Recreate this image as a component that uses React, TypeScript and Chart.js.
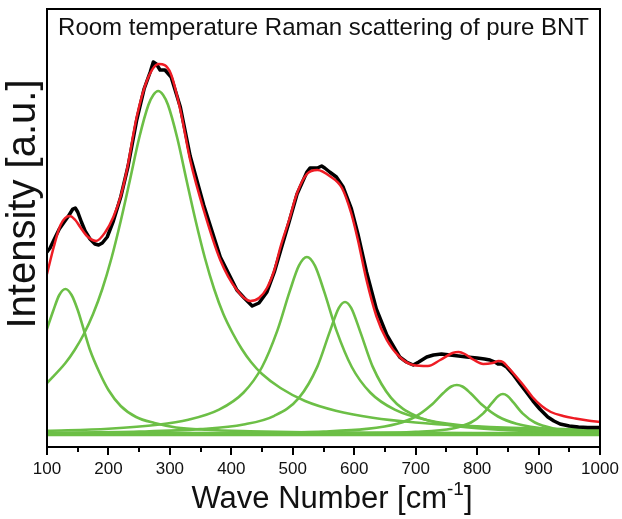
import React, { useEffect, useRef } from "react";
import { Chart, registerables } from "chart.js";

Chart.register(...registerables);

// ---- text ----
const titleText = "Room temperature Raman scattering of pure BNT";
const xTitleMain = "Wave Number [cm";
const xTitleSup = "-1";
const xTitleEnd = "]";
const yTitleText = "Intensity [a.u.]";

// ---- axes ----
const xMin = 100;
const xMax = 1000;
const xMajorStep = 100;
const xMinorStep = 50;
const yMin = -13;
const yMax = 425;

// ---- measured spectrum (black) ----
const expX = [100, 105, 112, 120, 128, 135, 142, 146, 150, 156, 162, 170, 178, 184, 190, 198, 208, 220, 232, 246, 258, 268, 273, 278, 284, 292, 302, 317, 333, 355, 382, 409, 421, 434, 445, 458, 470, 480, 494, 507, 523, 528, 540, 547, 552, 560, 571, 582, 595, 606, 620, 636, 653, 674, 685, 696, 705, 718, 729, 742, 756, 770, 783, 800, 812, 821, 829, 834, 840, 848, 858, 870, 880, 891, 902, 915, 925, 935, 950, 965, 980, 1000];
const expY = [182, 186, 195, 205, 212, 218, 225, 226, 222, 212, 203, 195, 190, 189, 191, 197, 213, 237, 268, 314, 345, 362, 372, 370, 364, 364, 357, 327, 278, 229, 177, 144, 136, 128, 131, 142, 162, 183, 212, 240, 262, 266, 266, 268, 266, 262, 257, 247, 226, 200, 162, 125, 99, 77, 72, 69, 72, 77, 79, 80, 79, 78, 77, 76, 75, 74, 72, 70, 70, 67, 60, 50, 42, 33, 25, 17, 13, 10, 8, 7, 6.5, 6.5];

// ---- cumulative fit (red) ----
const fitX = [100, 111, 122, 137, 146, 154, 165, 180, 195, 208, 220, 230, 246, 263, 282, 301, 317, 333, 355, 382, 409, 431, 445, 458, 470, 480, 494, 507, 523, 540, 560, 580, 595, 606, 620, 636, 653, 674, 696, 720, 740, 760, 770, 780, 795, 810, 825, 835, 842, 850, 860, 875, 890, 905, 920, 940, 960, 980, 1000];
const fitY = [160, 187, 209, 218, 214, 207, 198, 193, 202, 217, 238, 264, 317, 354, 370, 361, 324, 274, 224, 174, 144, 133, 136, 146, 164, 187, 214, 241, 260, 264, 258, 246, 221, 194, 154, 118, 94, 77, 69, 68, 74, 81, 82, 80, 74, 70, 71, 73, 72, 67, 60, 49, 37, 28, 22, 18, 15.5, 13.5, 12];

// ---- fitted component peaks (green) ----
const p1X = [100, 110, 120, 130, 140, 150, 160, 170, 185, 200, 220, 245, 275, 310, 360, 430, 520, 650, 800, 1000];
const p1Y = [105, 123, 139, 145, 139, 124, 104, 84, 62, 44, 28, 17, 11, 6.5, 4.2, 2.8, 1.8, 1.1, 0.7, 0.45];

const p2X = [100, 130, 145, 160, 175, 190, 205, 220, 235, 250, 265, 273, 281, 289, 297, 312, 327, 342, 357, 372, 387, 402, 417, 432, 450, 480, 520, 570, 630, 700, 780, 870, 1000];
const p2Y = [51, 71, 84, 100, 120, 145, 176, 213, 254, 296, 329, 339, 343, 339, 329, 296, 254, 213, 176, 145, 120, 101, 85, 72, 60, 46, 33, 23.3, 16.3, 11.5, 8.2, 5.9, 4.0];

const p3X = [100, 200, 280, 330, 380, 420, 450, 475, 495, 510, 523, 536, 551, 571, 596, 626, 666, 720, 800, 900, 1000];
const p3Y = [3.2, 5.3, 9.2, 14.2, 24.3, 41.5, 67, 103.6, 142.6, 168.3, 177, 168.3, 142.6, 103.6, 67, 41.5, 24.3, 13.7, 7.2, 4.0, 2.5];

const p4X = [100, 250, 350, 420, 470, 510, 540, 560, 575, 585, 595, 610, 630, 660, 700, 760, 850, 1000];
const p4Y = [1.2, 2.4, 4.9, 9.5, 18.2, 36.1, 67.4, 101.9, 126.1, 132, 126.1, 101.9, 67.4, 36.1, 18.2, 8.5, 3.9, 1.6];

const p5X = [100, 300, 450, 550, 620, 670, 700, 725, 745, 758, 767, 776, 789, 809, 834, 864, 920, 1000];
const p5Y = [0.3, 0.6, 1.2, 2.5, 5.1, 10.3, 17.5, 28.7, 41, 47.5, 49, 47.5, 41, 28.7, 17.5, 10.3, 4.7, 2.2];

const p6X = [100, 400, 600, 700, 760, 790, 810, 825, 835, 842, 849, 859, 874, 894, 924, 960, 1000];
const p6Y = [0.1, 0.2, 0.7, 2.1, 5.6, 11.5, 20.6, 31.6, 38.3, 40, 38.3, 31.6, 20.6, 11.5, 5.6, 2.9, 1.7];

const baseX = [100, 1000];
const baseY = [0, 0];

const FONT = "'Liberation Sans', Arial, Helvetica, sans-serif";
const GREEN = "#6cbf46";
const RED = "#ee1c24";

const zip = (xs: number[], ys: number[]) => xs.map((x, i) => ({ x, y: ys[i] }));

const decorPlugin = {
  id: "decor",
  afterDatasetsDraw(chart: any) {
    const { ctx, chartArea: a, scales } = chart;
    const xs = scales.x;
    ctx.save();
    // frame
    ctx.strokeStyle = "#000";
    ctx.lineWidth = 2;
    ctx.strokeRect(a.left, a.top, a.right - a.left, a.bottom - a.top);
    // outward ticks on x axis
    for (let v = xMin; v <= xMax; v += xMinorStep) {
      const p = Math.round(xs.getPixelForValue(v));
      const major = (v - xMin) % xMajorStep === 0;
      ctx.beginPath();
      ctx.moveTo(p, a.bottom);
      ctx.lineTo(p, a.bottom + (major ? 8 : 5));
      ctx.stroke();
    }
    // title inside plot
    ctx.fillStyle = "#111";
    ctx.textAlign = "center";
    ctx.textBaseline = "middle";
    ctx.font = `24px ${FONT}`;
    ctx.fillText(titleText, (a.left + a.right) / 2, a.top + 19);

    // x-axis title with superscript
    const mainFont = `31px ${FONT}`;
    const supFont = `19px ${FONT}`;
    ctx.textBaseline = "alphabetic";
    ctx.textAlign = "left";
    ctx.font = mainFont;
    const w1 = ctx.measureText(xTitleMain).width;
    const w3 = ctx.measureText(xTitleEnd).width;
    ctx.font = supFont;
    const w2 = ctx.measureText(xTitleSup).width;
    const total = w1 + w2 + w3;
    let sx = 332 - total / 2;
    const by = 508;
    ctx.font = mainFont;
    ctx.fillText(xTitleMain, sx, by);
    sx += w1;
    ctx.font = supFont;
    ctx.fillText(xTitleSup, sx, by - 13);
    sx += w2;
    ctx.font = mainFont;
    ctx.fillText(xTitleEnd, sx, by);

    // y-axis title
    ctx.save();
    ctx.translate(24, 204);
    ctx.rotate(-Math.PI / 2);
    ctx.textAlign = "center";
    ctx.textBaseline = "middle";
    ctx.font = `40px ${FONT}`;
    ctx.fillText(yTitleText, 0, 0);
    ctx.restore();

    ctx.restore();
  },
};

export default function App() {
  const ref = useRef<HTMLCanvasElement | null>(null);

  useEffect(() => {
    document.body.style.margin = "0";
    const canvas = ref.current;
    if (!canvas) return;
    const line = (label: string, xs: number[], ys: number[], color: string, width: number, smooth = true) => ({
      label,
      data: zip(xs, ys),
      borderColor: color,
      backgroundColor: color,
      borderWidth: width,
      pointRadius: 0,
      fill: false,
      cubicInterpolationMode: smooth ? ("monotone" as const) : ("default" as const),
      tension: 0,
      borderJoinStyle: "round" as const,
      borderCapStyle: "round" as const,
    });
    const chart = new Chart(canvas, {
      type: "line",
      data: {
        datasets: [
          line("Fit", fitX, fitY, RED, 2.5),
          line("Measured", expX, expY, "#000", 3.5, false),
          line("Peak 1", p1X, p1Y, GREEN, 2.6),
          line("Peak 2", p2X, p2Y, GREEN, 2.6),
          line("Peak 3", p3X, p3Y, GREEN, 2.6),
          line("Peak 4", p4X, p4Y, GREEN, 2.6),
          line("Peak 5", p5X, p5Y, GREEN, 2.6),
          line("Peak 6", p6X, p6Y, GREEN, 2.6),
          line("Baseline", baseX, baseY, GREEN, 4.5),
        ],
      },
      options: {
        responsive: false,
        animation: false,
        devicePixelRatio: 1,
        layout: { padding: { top: 9, right: 22, left: 0, bottom: 0 } },
        plugins: { legend: { display: false }, tooltip: { enabled: false }, title: { display: false } },
        scales: {
          x: {
            type: "linear",
            min: xMin,
            max: xMax,
            ticks: {
              stepSize: xMajorStep,
              autoSkip: false,
              maxRotation: 0,
              padding: 0,
              color: "#111",
              font: { family: FONT, size: 17 },
              callback: (v: any) => String(v),
            },
            grid: { display: false, drawTicks: true, tickLength: 12 },
            border: { display: false },
            afterFit(s: any) {
              s.height = 72;
            },
          },
          y: {
            type: "linear",
            min: yMin,
            max: yMax,
            ticks: { display: false },
            grid: { display: false, drawTicks: false },
            border: { display: false },
            afterFit(s: any) {
              s.width = 47;
            },
          },
        },
      },
      plugins: [decorPlugin],
    });
    return () => chart.destroy();
  }, []);

  return (
    <div style={{ width: 622, height: 519 }}>
      <canvas ref={ref} width={622} height={519} style={{ display: "block" }} />
    </div>
  );
}
